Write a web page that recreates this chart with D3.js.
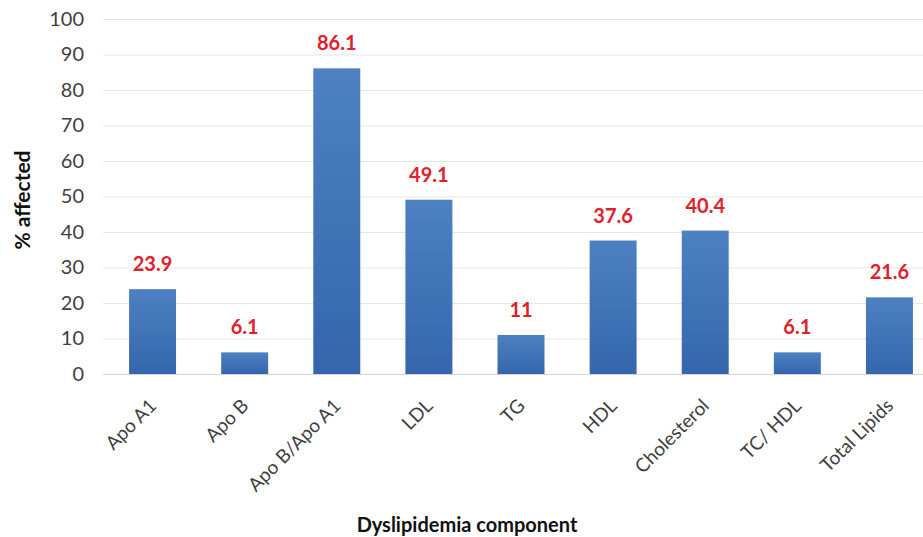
<!DOCTYPE html>
<html>
<head>
<meta charset="utf-8">
<script src="https://cdn.jsdelivr.net/npm/d3@7"></script>
<style>
  body { margin: 0; background: #fff; }
  svg { display: block; font-family: Lato, "Open Sans", sans-serif; }
</style>
</head>
<body>
<div id="chart"></div>
<script>
// dyslipidemia components, % affected
var categories = ["Apo A1", "Apo B", "Apo B/Apo A1", "LDL", "TG", "HDL", "Cholesterol", "TC/ HDL", "Total Lipids"];
var values = [23.9, 6.1, 86.1, 49.1, 11, 37.6, 40.4, 6.1, 21.6];
var y_ticks = [0, 10, 20, 30, 40, 50, 60, 70, 80, 90, 100];

var width = 923,
	height = 537;

var svg = d3.select("#chart")
	.append("svg")
	.attr("width", width)
	.attr("height", height);

// bar gradient
var grad = svg.append("defs").append("linearGradient")
	.attr("id", "bar_grad")
	.attr("x1", 0).attr("y1", 0).attr("x2", 0).attr("y2", 1);
grad.append("stop").attr("offset", "0%").attr("stop-color", "#4d81c2");
grad.append("stop").attr("offset", "100%").attr("stop-color", "#3566ac");

// last band runs past the right edge, like the cropped original
var x = d3.scaleBand()
	.domain(categories)
	.range([106.5, 935.5])
	.paddingInner(0.49)
	.paddingOuter(0.245);

var y = d3.scaleLinear()
	.domain([0, 100])
	.range([374, 19]);

// gridlines
svg.append("g")
	.selectAll("line")
	.data(y_ticks)
	.enter().append("line")
	.attr("x1", 103)
	.attr("x2", width)
	.attr("y1", function(d) { return y(d) + 0.5; })
	.attr("y2", function(d) { return y(d) + 0.5; })
	.attr("stroke", function(d) { return d == 0 ? "#d4d4d4" : "#e6e6e6"; })
	.attr("stroke-width", 1.2);

// y axis labels
var y_axis = svg.append("g")
	.attr("transform", "translate(86,0)")
	.call(d3.axisLeft(y).tickValues(y_ticks).tickSize(0).tickPadding(2));
y_axis.select(".domain").remove();
y_axis.selectAll("text")
	.attr("font-size", 20)
	.attr("fill", "#3f3f3f")
	.attr("font-family", "Lato, 'Open Sans', sans-serif");

// bars
svg.append("g")
	.selectAll("rect")
	.data(values)
	.enter().append("rect")
	.attr("x", function(d, i) { return x(categories[i]); })
	.attr("y", function(d) { return y(d); })
	.attr("width", x.bandwidth())
	.attr("height", function(d) { return y(0) - y(d); })
	.attr("fill", "url(#bar_grad)");

// value labels
svg.append("g")
	.selectAll("text")
	.data(values)
	.enter().append("text")
	.attr("x", function(d, i) { return x(categories[i]) + x.bandwidth() / 2; })
	.attr("y", function(d) { return y(d) - 18; })
	.attr("text-anchor", "middle")
	.attr("font-size", 20)
	.attr("font-weight", "bold")
	.attr("fill", "#e0202a")
	.text(function(d) { return d; });

// x axis labels, rotated
var x_axis = svg.append("g")
	.attr("transform", "translate(0," + y(0) + ")")
	.call(d3.axisBottom(x).tickSize(0).tickPadding(0));
x_axis.select(".domain").remove();
x_axis.selectAll("text")
	.attr("font-size", 19)
	.attr("fill", "#3f3f3f")
	.attr("font-family", "Lato, 'Open Sans', sans-serif")
	.attr("text-anchor", "end")
	.attr("dy", null)
	.attr("transform", "translate(5,33) rotate(-45)");

// axis titles
svg.append("text")
	.attr("transform", "translate(30,200) rotate(-90)")
	.attr("text-anchor", "middle")
	.attr("font-size", 21)
	.attr("font-weight", "bold")
	.attr("fill", "#111")
	.text("% affected");

svg.append("text")
	.attr("x", 467)
	.attr("y", 532)
	.attr("text-anchor", "middle")
	.attr("font-size", 20)
	.attr("font-weight", "bold")
	.attr("fill", "#111")
	.text("Dyslipidemia component");
</script>
</body>
</html>
